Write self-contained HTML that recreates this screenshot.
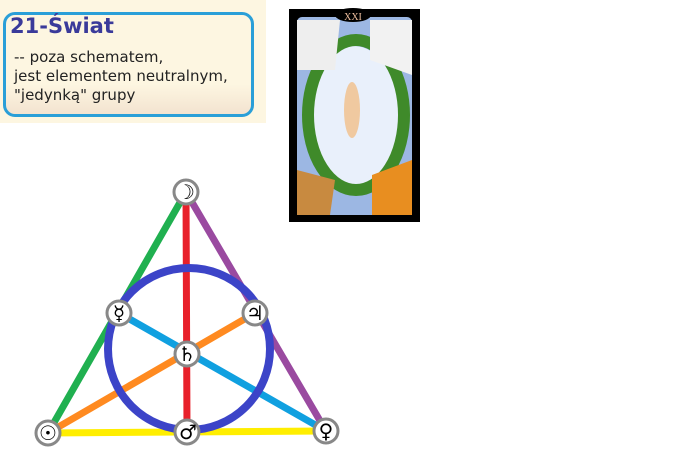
<!DOCTYPE html>
<html><head><style>
body{margin:0;width:688px;height:469px;background:#fff;position:relative;overflow:hidden;font-family:"DejaVu Sans","Liberation Sans",sans-serif}
.bg{position:absolute;left:0;top:0;width:266px;height:123px;background:#fdf6e1}
.box{position:absolute;left:3px;top:12px;width:245px;height:99px;border:3px solid #2a9fd8;border-radius:12px;background:linear-gradient(#fdf6e1 70%,#f3e3d0)}
.t{position:absolute;left:10px;top:14px;font-weight:bold;font-size:21px;color:#3a3a9a}
.d{position:absolute;left:14px;top:48px;font-size:15px;line-height:19px;color:#222}
</style></head><body>
<div class="bg"></div><div class="box"></div>
<div class="t">21-Świat</div>
<div class="d">-- poza schematem,<br>jest elementem neutralnym,<br>"jedynką" grupy</div>
<svg width="688" height="469" style="position:absolute;left:0;top:0">
<rect x="289" y="9" width="131" height="213" fill="#000"/>
<rect x="297" y="17" width="115" height="198" rx="5" fill="#9cb7e3"/>
<ellipse cx="354" cy="118" rx="46" ry="72" fill="#e9f0fb"/>
<ellipse cx="356" cy="115" rx="48" ry="75" fill="none" stroke="#3f8a2a" stroke-width="12"/>
<path d="M297 20 L340 20 L335 70 L297 70Z" fill="#eee"/>
<path d="M370 20 L412 20 L412 75 L370 60Z" fill="#f2f2f2"/>
<path d="M297 170 L335 180 L330 215 L297 215Z" fill="#c88a40"/>
<path d="M372 175 L412 160 L412 215 L372 215Z" fill="#e88e20"/>
<ellipse cx="352" cy="110" rx="8" ry="28" fill="#f0c9a0"/>
<ellipse cx="353" cy="15" rx="18" ry="7" fill="#000"/>
<text x="353" y="20" font-size="10" fill="#f0c0a0" text-anchor="middle" font-family="Liberation Serif">XXI</text>
<g stroke-width="7" stroke-linecap="round">
<line x1="48" y1="433" x2="326" y2="431" stroke="#ffee00"/>
<line x1="48" y1="433" x2="186" y2="192" stroke="#20b050"/>
<line x1="186" y1="192" x2="326" y2="431" stroke="#9a4aa0"/>
<line x1="186" y1="192" x2="187" y2="432" stroke="#e8202a"/>
<line x1="119" y1="313" x2="326" y2="431" stroke="#10a0e0"/>
<line x1="48" y1="433" x2="255" y2="313" stroke="#ff8a20"/>
</g>
<circle cx="189" cy="349" r="81" fill="none" stroke="#3c44c8" stroke-width="8"/>
<g fill="#fff" stroke="#888" stroke-width="3">
<circle cx="186" cy="192" r="12"/><circle cx="119" cy="313" r="12"/><circle cx="255" cy="313" r="12"/>
<circle cx="187" cy="354" r="12"/><circle cx="48" cy="433" r="12"/><circle cx="187" cy="432" r="12"/><circle cx="326" cy="431" r="12"/>
</g>
<g font-size="20" text-anchor="middle" fill="#000" font-family="DejaVu Sans" font-weight="bold">
<text x="186" y="199">☽</text><text x="119" y="320">☿</text><text x="255" y="320">♃</text>
<text x="187" y="361">♄</text><text x="48" y="440">☉</text><text x="188" y="439">♂</text><text x="326" y="438">♀</text>
</g>
</svg>
</body></html>
